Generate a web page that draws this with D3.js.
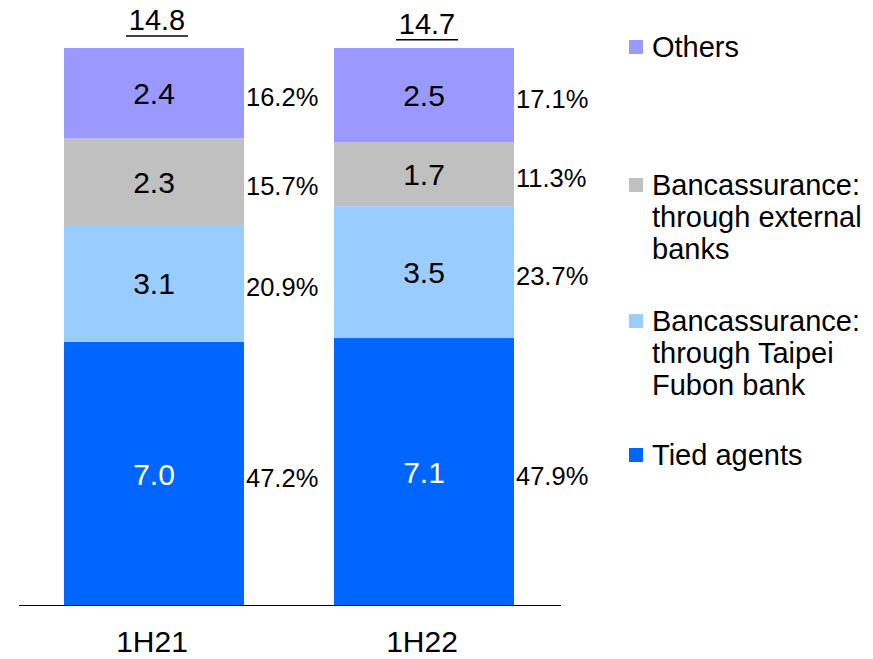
<!DOCTYPE html>
<html>
<head>
<meta charset="utf-8">
<script src="https://cdn.jsdelivr.net/npm/d3@7"></script>
<style>
  html, body { margin: 0; padding: 0; background: #fff; }
  svg { display: block; font-family: "Liberation Sans", Arial, sans-serif; }
</style>
</head>
<body>
<svg id="chart" width="873" height="659"></svg>
<script>
// Premium mix by channel (NT$bn)
const periods = ["1H21", "1H22"];
const totals = [14.8, 14.7];
const seriesNames = ["Tied agents", "Bancassurance: through Taipei Fubon bank", "Bancassurance: through external banks", "Others"];
const tiedAgents = [7.0, 7.1];
const taipeiFubon = [3.1, 3.5];
const externalBanks = [2.3, 1.7];
const others = [2.4, 2.5];
const sharesTied = ["47.2%", "47.9%"];
const sharesTaipei = ["20.9%", "23.7%"];
const sharesExternal = ["15.7%", "11.3%"];
const sharesOthers = ["16.2%", "17.1%"];

const colors = ["#0066FF", "#99CCFF", "#C0C0C0", "#9999FF"];
const labelColors = ["#fff", "#000", "#000", "#000"];
const seriesValues = [tiedAgents, taipeiFubon, externalBanks, others];
const seriesShares = [sharesTied, sharesTaipei, sharesExternal, sharesOthers];

const svg = d3.select("#chart");

const x = d3.scaleBand().domain(periods).range([19, 559]).paddingInner(1 / 3).paddingOuter(1 / 6);
const y = d3.scaleLinear().domain([0, 14.8]).range([605.5, 48]);

// build stacked table
const table = periods.map((p, i) => {
  const row = { period: p };
  seriesNames.forEach((s, k) => { row[s] = seriesValues[k][i]; });
  return row;
});
const stacked = d3.stack().keys(seriesNames)(table);

const g = svg.append("g");
stacked.forEach((layer, k) => {
  const lg = g.append("g");
  lg.selectAll("rect").data(layer).join("rect")
    .attr("x", d => x(d.data.period))
    .attr("width", x.bandwidth())
    .attr("y", d => y(d[1]))
    .attr("height", d => y(d[0]) - y(d[1]))
    .attr("fill", colors[k]);
  lg.selectAll("text.val").data(layer).join("text")
    .attr("class", "val")
    .attr("x", d => x(d.data.period) + x.bandwidth() / 2)
    .attr("y", d => (y(d[0]) + y(d[1])) / 2 + 11)
    .attr("text-anchor", "middle")
    .attr("font-size", 30)
    .attr("fill", labelColors[k])
    .text(d => d3.format(".1f")(d[1] - d[0]));
  lg.selectAll("text.pct").data(layer).join("text")
    .attr("class", "pct")
    .attr("x", d => x(d.data.period) + x.bandwidth() + 2)
    .attr("y", d => (y(d[0]) + y(d[1])) / 2 + 13)
    .attr("font-size", 25.5)
    .attr("fill", "#000")
    .text((d, i) => seriesShares[k][i]);
});

// totals with underline
periods.forEach((p, i) => {
  const cx = x(p) + x.bandwidth() / 2 + 3;
  svg.append("text")
    .attr("x", cx)
    .attr("y", y(totals[i]) - 18)
    .attr("text-anchor", "middle")
    .attr("font-size", 29)
    .attr("fill", "#000")
    .text(d3.format(".1f")(totals[i]));
  svg.append("line")
    .attr("x1", cx - 31).attr("x2", cx + 31)
    .attr("y1", y(totals[i]) - 12).attr("y2", y(totals[i]) - 12)
    .attr("stroke", "#000").attr("stroke-width", 1.5);
});

// baseline
svg.append("line")
  .attr("x1", 19).attr("x2", 561)
  .attr("y1", y(0)).attr("y2", y(0))
  .attr("stroke", "#000").attr("stroke-width", 1.2);

// category labels
svg.append("g").selectAll("text").data(periods).join("text")
  .attr("x", d => x(d) + x.bandwidth() / 2 - 2)
  .attr("y", 652)
  .attr("text-anchor", "middle")
  .attr("font-size", 30)
  .attr("fill", "#000")
  .text(d => d);

// legend (top to bottom: Others, external, Taipei Fubon, Tied agents)
const legendItems = [
  { k: 3, lines: ["Others"], base: 57 },
  { k: 2, lines: ["Bancassurance:", "through external", "banks"], base: 195 },
  { k: 1, lines: ["Bancassurance:", "through Taipei", "Fubon bank"], base: 331 },
  { k: 0, lines: ["Tied agents"], base: 465 }
];
const leg = svg.append("g");
legendItems.forEach(it => {
  leg.append("rect")
    .attr("x", 629).attr("y", it.base - 17)
    .attr("width", 14).attr("height", 14)
    .attr("fill", colors[it.k]);
  const t = leg.append("text")
    .attr("x", 652)
    .attr("y", it.base)
    .attr("font-size", 29)
    .attr("fill", "#000");
  it.lines.forEach((ln, j) => {
    t.append("tspan").attr("x", 652).attr("dy", j === 0 ? 0 : 32).text(ln);
  });
});
</script>
</body>
</html>
